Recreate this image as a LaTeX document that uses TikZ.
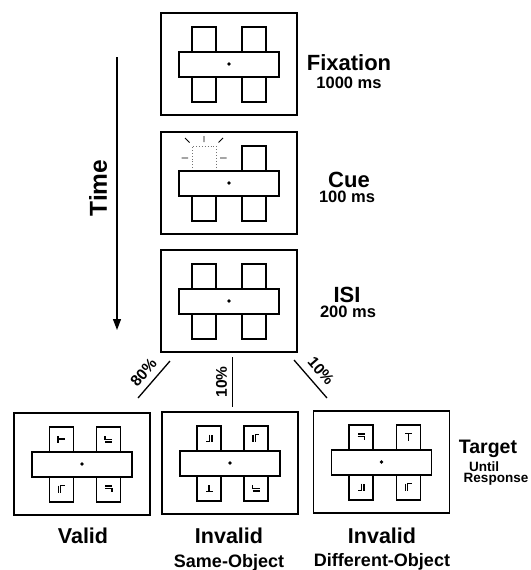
\documentclass[tikz,border=0pt]{standalone}
\usepackage{fontspec}
\setmainfont{Liberation Sans}
\usetikzlibrary{arrows.meta}

% two upright placeholder rectangles, the horizontal bar across them and the fixation dot
\newcommand\objects[3]{%
  \begin{scope}[shift={#1}]
    \draw[holder] ({#2-12},-37) rectangle ({#2+12},38);
    \draw[holder] ({#3-12},-37) rectangle ({#3+12},38);
    \draw[bar] (-50,-12) rectangle (50,13);
    \fill (0,0) circle (1.9);
  \end{scope}}

\begin{document}
\begin{tikzpicture}[x=1pt,y=-1pt,
  frame/.style={draw, line width=1.4pt, minimum width=136pt, minimum height=102pt, inner sep=0pt},
  holder/.style={draw, line width=1.3pt},
  bar/.style={draw, fill=white, line width=1.3pt},
  glyph/.style={line width=1.1pt},
  flash/.style={line width=0.9pt},
  cueedge/.style={draw=black!55, line width=0.9pt, dotted},
  link/.style={line width=1.3pt},
  title/.style={font=\fontsize{22}{22}\selectfont\bfseries, inner sep=0pt, anchor=base},
  dur/.style={font=\fontsize{16.5}{16.5}\selectfont\bfseries, inner sep=0pt, anchor=base},
  cond/.style={font=\fontsize{21.5}{21.5}\selectfont\bfseries, inner sep=0pt, anchor=base},
  subcond/.style={font=\fontsize{18}{18}\selectfont\bfseries, inner sep=0pt, anchor=base},
  small/.style={font=\fontsize{13.5}{13.5}\selectfont\bfseries, inner sep=0pt, anchor=base},
  pct/.style={font=\fontsize{15.5}{15.5}\selectfont\bfseries, inner sep=0pt},
  tshape/.pic={\draw[glyph] (-3.5,-3.5) -- (3.5,-3.5) (0,-3.5) -- (0,3.5);},
  lshape/.pic={\draw[glyph] (-3,-3.5) -- (-3,3.5) (-0.6,3.5) -- (-0.6,-3.5) -- (3.2,-3.5);}
]
\useasboundingbox (0,0) rectangle (530,570);

% ---- sequence of displays ----
\node[frame] (fix) at (229,64) {};
\node[frame] (cue) at (229,183) {};
\node[frame] (isi) at (229,301) {};

\objects{(fix.center)}{-25}{25}
\objects{(isi.center)}{-25}{25}

% cue display: the upper part of the left object flashes
\begin{scope}[shift={(cue.center)}]
  \draw[holder] (13,-37) rectangle (37,38);
  \draw[holder] (-37,-12) rectangle (-13,38);
  \draw[cueedge] (-37,-12) -- (-37,-37) -- (-13,-37) -- (-13,-12);
  \draw[bar] (-50,-12) rectangle (50,13);
  \fill (0,0) circle (1.9);
  \draw[flash] (-25,-47) -- (-25,-41)
               (-44,-45) -- (-39.5,-40.5)
               (-6,-45) -- (-10.5,-40.5)
               (-47.5,-25) -- (-41,-25)
               (-9,-25) -- (-2.5,-25);
\end{scope}

% ---- target displays ----
\node[frame] (valid) at (82,464) {};
\node[frame] (same) at (230,463) {};
\node[frame] (diff) at (381.5,462) {};

\objects{(valid.center)}{-20.5}{26.5}
\objects{(same.center)}{-21}{26}
\objects{(diff.center)}{-20.5}{27}

\begin{scope}[shift={(valid.center)}]
  \pic[rotate=90]  at (-20.5,-25) {tshape};
  \pic[rotate=90]  at (26.5,-25) {lshape};
  \pic             at (-20.5,25) {lshape};
  \pic[rotate=-90] at (26.5,25) {lshape};
\end{scope}
\begin{scope}[shift={(same.center)}]
  \pic[rotate=180] at (-21,-25) {lshape};
  \pic             at (26,-25) {lshape};
  \pic[rotate=180] at (-21,25) {tshape};
  \pic[rotate=90]  at (26,25) {lshape};
\end{scope}
\begin{scope}[shift={(diff.center)}]
  \pic[rotate=-90] at (-20.5,-25) {lshape};
  \pic             at (27,-25) {tshape};
  \pic[rotate=180] at (-20.5,25) {lshape};
  \pic             at (27,25) {lshape};
\end{scope}

% ---- labels of the displays ----
\node[title] (fixname) at (349,70) {Fixation};
\node[dur] (fixdur) at (349,88) {1000 ms};
\node[title] (cuename) at (349,187) {Cue};
\node[dur] (cuedur) at (347,202) {100 ms};
\node[title] (isiname) at (347,302) {ISI};
\node[dur] (isidur) at (348,317) {200 ms};

\node[title, font=\fontsize{19.5}{19.5}\selectfont\bfseries] (targetname) at (488,453) {Target};
\node[small] (until) at (484,471) {Until};
\node[small] (response) at (496,482) {Response};

\node[cond] (validname) at (83,543) {Valid};
\node[cond] (invname1) at (229,543) {Invalid};
\node[cond] (invname2) at (382,543) {Invalid};
\node[subcond] (samename) at (229,567) {Same-Object};
\node[subcond] (diffname) at (382,566) {Different-Object};

% ---- time axis ----
\coordinate (tstart) at (117,57);
\coordinate (tend) at (117,330);
\draw[line width=1.2pt, -{Triangle[width=8pt,length=11pt]}] (tstart) -- (tend);
\node[font=\fontsize{24.5}{24.5}\selectfont\bfseries, rotate=90, inner sep=0pt] (time) at (98,188) {Time};

% ---- branches to the three target conditions ----
\coordinate (b1s) at (170,361);
\coordinate (b1e) at (138,398);
\coordinate (b2s) at (232.7,357);
\coordinate (b2e) at (232.7,407);
\coordinate (b3s) at (294,360);
\coordinate (b3e) at (327,398);
\draw[link] (b1s) -- (b1e);
\draw[link] (b2s) -- (b2e);
\draw[link] (b3s) -- (b3e);
\node[pct, rotate=49] (p1) at (143.5,372.5) {80\%};
\node[pct, rotate=90] (p2) at (221.5,382) {10\%};
\node[pct, rotate=-49] (p3) at (321,371) {10\%};
\end{tikzpicture}
\end{document}
